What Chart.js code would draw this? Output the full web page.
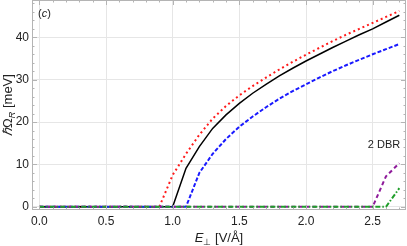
<!DOCTYPE html>
<html>
<head>
<meta charset="utf-8">
<script src="https://cdn.jsdelivr.net/npm/chart.js@4.4.1/dist/chart.umd.min.js"></script>
<style>
  html, body { margin: 0; padding: 0; background: #fff; }
  #wrap { width: 407px; height: 246px; }
</style>
</head>
<body>
<div id="wrap"><canvas id="grafico"></canvas></div>
<script>
// field values E (V/Å)
const campo = [0.0, 0.1, 0.2, 0.3, 0.4, 0.5, 0.6, 0.7, 0.8, 0.9,
               1.0, 1.1, 1.2, 1.3, 1.4, 1.5, 1.6, 1.7, 1.8, 1.9,
               2.0, 2.1, 2.2, 2.3, 2.4, 2.5, 2.6, 2.7];

// Rabi splitting (meV) per curve
const rojo    = [0, 0, 0, 0, 0, 0, 0, 0, 0, 0,
                 7.5, 12.5, 17.0, 20.8, 23.8, 26.3, 28.5, 30.5, 32.4, 34.2,
                 35.9, 37.5, 39.1, 40.6, 42.0, 43.4, 44.8, 46.2];
const negro   = [0, 0, 0, 0, 0, 0, 0, 0, 0, 0,
                 0, 9.1, 14.2, 18.5, 21.7, 24.4, 26.8, 28.9, 30.9, 32.7,
                 34.4, 36.0, 37.6, 39.1, 40.6, 42.0, 43.6, 45.2];
const azul    = [0, 0, 0, 0, 0, 0, 0, 0, 0, 0,
                 0, 0, 8.0, 12.5, 16.0, 18.9, 21.3, 23.5, 25.5, 27.3,
                 28.9, 30.5, 32.0, 33.4, 34.7, 36.0, 37.2, 38.4];
const morado  = [0, 0, 0, 0, 0, 0, 0, 0, 0, 0,
                 0, 0, 0, 0, 0, 0, 0, 0, 0, 0,
                 0, 0, 0, 0, 0, 0, 7.2, 10.3];
const verde   = [0, 0, 0, 0, 0, 0, 0, 0, 0, 0,
                 0, 0, 0, 0, 0, 0, 0, 0, 0, 0,
                 0, 0, 0, 0, 0, 0, 0, 4.4];

const xTicks = [0, 0.5, 1.0, 1.5, 2.0, 2.5];
const yTicks = [0, 10, 20, 30, 40];

const fuente = "'Liberation Sans', Arial, sans-serif";

function puntos(serie) {
    return campo.map((e, i) => ({ x: e, y: serie[i] }));
}

function serie(datos, color, dash, ancho, orden) {
    return {
        data: puntos(datos),
        borderColor: color,
        borderWidth: ancho,
        borderDash: dash,
        borderCapStyle: 'butt',
        pointRadius: 0,
        fill: false,
        tension: 0,
        order: orden
    };
}

// frame, inward ticks and texts (Mathematica look)
const marco = {
    id: 'marco',
    afterDraw(chart) {
        let ctx = chart.ctx;
        let a = chart.chartArea;
        let sx = chart.scales.x, sy = chart.scales.y;
        ctx.save();
        ctx.strokeStyle = '#b4b4b4';
        ctx.lineWidth = 1;
        ctx.beginPath();
        // minor + major x ticks
        for (let k = 0; k <= 27; k++) {
            let v = k / 10;
            let px = Math.round(sx.getPixelForValue(v)) + 0.5;
            let len = (k % 5 === 0) ? 5 : 2.5;
            ctx.moveTo(px, a.bottom); ctx.lineTo(px, a.bottom - len);
            ctx.moveTo(px, a.top); ctx.lineTo(px, a.top + len);
        }
        for (let k = 0; k <= 24; k++) {
            let v = k * 2;
            let py = Math.round(sy.getPixelForValue(v)) + 0.5;
            let len = (k % 5 === 0) ? 5 : 2.5;
            ctx.moveTo(a.left, py); ctx.lineTo(a.left + len, py);
            ctx.moveTo(a.right, py); ctx.lineTo(a.right - len, py);
        }
        ctx.stroke();
        ctx.strokeRect(a.left + 0.5, a.top + 0.5, a.right - a.left - 1, a.bottom - a.top - 1);

        ctx.fillStyle = '#222';
        ctx.textBaseline = 'alphabetic';

        // (c)
        ctx.font = '11px ' + fuente;
        ctx.textAlign = 'left';
        let x0 = 38;
        ctx.fillText('(', x0, 17);
        x0 += ctx.measureText('(').width;
        ctx.font = 'italic 11px ' + fuente;
        ctx.fillText('c', x0, 17);
        x0 += ctx.measureText('c').width;
        ctx.font = '11px ' + fuente;
        ctx.fillText(')', x0, 17);

        // 2 DBR
        ctx.textAlign = 'center';
        ctx.fillText('2 DBR', 384, 148);

        // x title: E⊥ [V/Å]
        ctx.textAlign = 'left';
        let partesX = [
            { t: 'E', f: 'italic 13px ' + fuente, dy: 0 },
            { t: '⊥', f: '9px ' + fuente, dy: 3 },
            { t: ' [V/Å]', f: '13px ' + fuente, dy: 0 }
        ];
        dibujarPartes(ctx, partesX, (a.left + a.right) / 2, 242);

        // y title: ℏΩR [meV]
        ctx.translate(12, (a.top + a.bottom) / 2);
        ctx.rotate(-Math.PI / 2);
        let partesY = [
            { t: 'ℏ', f: 'italic 13px ' + fuente, dy: 0 },
            { t: 'Ω', f: '13px ' + fuente, dy: 0 },
            { t: 'R', f: 'italic 9px ' + fuente, dy: 3 },
            { t: ' [meV]', f: '13px ' + fuente, dy: 0 }
        ];
        dibujarPartes(ctx, partesY, 0, 0);
        ctx.restore();
    }
};

function dibujarPartes(ctx, partes, cx, base) {
    let total = 0;
    partes.forEach(p => { ctx.font = p.f; total += ctx.measureText(p.t).width; });
    let x = cx - total / 2;
    partes.forEach(p => {
        ctx.font = p.f;
        ctx.fillText(p.t, x, base + p.dy);
        x += ctx.measureText(p.t).width;
    });
}

let config = {
    type: 'line',
    data: {
        datasets: [
            serie(rojo, '#ff1a1a', [2, 3], 2, 4),
            serie(negro, '#000000', [], 1.5, 3),
            serie(azul, '#1a1aff', [4, 2], 2, 2),
            serie(morado, '#8e1a9a', [4, 3], 2, 1),
            serie(verde, '#1f9e2a', [5, 2, 1.5, 2], 2, 0)
        ]
    },
    options: {
        responsive: false,
        animation: false,
        layout: { padding: { left: 0, right: 1, top: 0, bottom: 0 } },
        plugins: {
            legend: { display: false },
            tooltip: { enabled: false }
        },
        scales: {
            x: {
                type: 'linear',
                min: -0.055,
                max: 2.75,
                afterBuildTicks: s => { s.ticks = xTicks.map(v => ({ value: v })); },
                afterFit: s => { s.height = 36; s.paddingLeft = 0; s.paddingRight = 0; },
                ticks: {
                    color: '#222',
                    font: { family: fuente, size: 12 },
                    padding: 4,
                    maxRotation: 0,
                    callback: v => v.toFixed(1)
                },
                grid: { color: '#e6e6e6', drawTicks: false },
                border: { display: false }
            },
            y: {
                min: -0.75,
                max: 48.8,
                afterBuildTicks: s => { s.ticks = yTicks.map(v => ({ value: v })); },
                afterFit: s => { s.width = 32; s.paddingTop = 0; s.paddingBottom = 0; },
                ticks: {
                    color: '#222',
                    font: { family: fuente, size: 12 },
                    padding: 3
                },
                grid: { color: '#e6e6e6', drawTicks: false },
                border: { display: false }
            }
        }
    },
    plugins: [marco]
};

let canvas = document.getElementById('grafico');
canvas.width = 407;
canvas.height = 246;
new Chart(canvas.getContext('2d'), config);
</script>
</body>
</html>
